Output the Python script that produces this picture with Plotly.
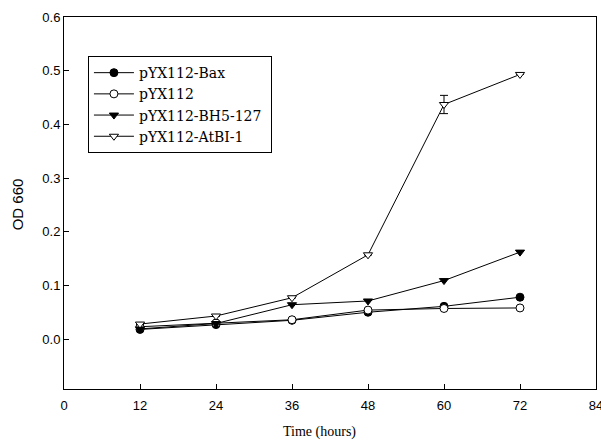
import plotly.graph_objects as go

time_hours = [12, 24, 36, 48, 60, 72]
bax = [0.018, 0.027, 0.035, 0.050, 0.061, 0.078]
pyx112 = [0.023, 0.030, 0.036, 0.054, 0.057, 0.058]
bh5_127 = [0.019, 0.029, 0.064, 0.071, 0.109, 0.162]
atbi_1 = [0.028, 0.043, 0.077, 0.157, 0.437, 0.493]
atbi_1_err = [0, 0, 0, 0, 0.017, 0]

x_ticks = [0, 12, 24, 36, 48, 60, 72, 84]
y_ticks = [0.0, 0.1, 0.2, 0.3, 0.4, 0.5, 0.6]

series = [
    ("pYX112-Bax", bax, "circle", False, None),
    ("pYX112", pyx112, "circle", True, None),
    ("pYX112-BH5-127", bh5_127, "triangle-down", False, None),
    ("pYX112-AtBI-1", atbi_1, "triangle-down", True, atbi_1_err),
]

fig = go.Figure()
for name, vals, sym, hollow, err in series:
    marker = dict(symbol=sym, size=8, color="white" if hollow else "black",
                  line=dict(color="black", width=1))
    tr = go.Scatter(x=time_hours, y=vals, name=name + "\u00a0",
                    mode="lines+markers",
                    line=dict(color="black", width=1), marker=marker)
    if err is not None:
        tr.error_y = dict(type="data", array=err, visible=True, color="black",
                          thickness=1, width=4)
    fig.add_trace(tr)

fig.update_layout(
    width=601, height=441,
    margin=dict(l=64, r=5, t=17, b=52, autoexpand=False),
    paper_bgcolor="white", plot_bgcolor="white",
    showlegend=True,
    legend=dict(x=0.045, y=0.895, xanchor="left", yanchor="top",
                bordercolor="black", borderwidth=1, bgcolor="white",
                font=dict(family="DejaVu Serif", size=14, color="black"),
                tracegroupgap=0, itemwidth=40),
    font=dict(family="Liberation Sans", size=13, color="black"),
    annotations=[
        dict(text="Time (hours)", xref="paper", yref="paper", x=0.481, y=-0.115,
             xanchor="center", yanchor="middle", showarrow=False,
             font=dict(family="Liberation Serif", size=14, color="black")),
        dict(text="OD 660", xref="paper", yref="paper", x=-0.088, y=0.497,
             xanchor="center", yanchor="middle", showarrow=False, textangle=-90,
             font=dict(family="Liberation Sans", size=15, color="black")),
    ],
)
fig.update_xaxes(range=[0, 84], tickvals=x_ticks, ticks="inside", ticklen=5,
                 tickcolor="black", showline=True, linecolor="black", linewidth=1,
                 mirror=True, showgrid=False, zeroline=False, automargin=False,
                 ticklabeloverflow="allow", ticklabelstandoff=4,
                 tickfont=dict(family="Liberation Sans", size=13, color="black"))
fig.update_yaxes(range=[-0.093, 0.6], tickvals=y_ticks, tickformat=".1f",
                 ticks="inside", ticklen=5, tickcolor="black",
                 showline=True, linecolor="black", linewidth=1, mirror=True,
                 showgrid=False, zeroline=False, automargin=False,
                 ticklabeloverflow="allow",
                 tickfont=dict(family="Liberation Sans", size=13, color="black"))

fig.write_html("out.html", config={"displayModeBar": False},
               post_script="document.body.style.margin='0';"
                           "document.body.style.overflow='hidden';")
